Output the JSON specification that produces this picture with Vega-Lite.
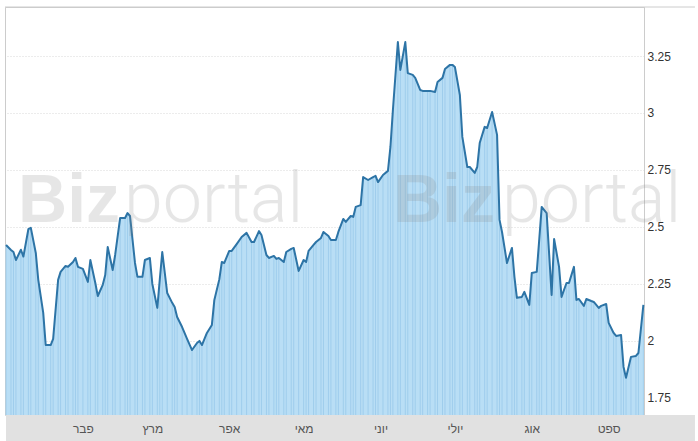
{
  "$schema": "https://vega.github.io/schema/vega-lite/v6.json",
  "width": 639,
  "height": 408,
  "autosize": {"type": "none"},
  "padding": {"left": 5, "top": 7, "right": 54, "bottom": 26},
  "background": "white",
  "config": {
    "view": {"stroke": "#cccccc", "strokeWidth": 1},
    "font": "Liberation Sans"
  },
  "data": {"values": [
    {"date": "2019-01-01", "v": 2.421}, {"date": "2019-01-03", "v": 2.399}, {"date": "2019-01-04", "v": 2.39},
    {"date": "2019-01-05", "v": 2.355}, {"date": "2019-01-07", "v": 2.40}, {"date": "2019-01-08", "v": 2.37},
    {"date": "2019-01-10", "v": 2.49}, {"date": "2019-01-11", "v": 2.496}, {"date": "2019-01-13", "v": 2.386},
    {"date": "2019-01-14", "v": 2.268}, {"date": "2019-01-16", "v": 2.123}, {"date": "2019-01-17", "v": 1.982},
    {"date": "2019-01-19", "v": 1.982}, {"date": "2019-01-20", "v": 2.009}, {"date": "2019-01-22", "v": 2.268},
    {"date": "2019-01-23", "v": 2.303}, {"date": "2019-01-25", "v": 2.329}, {"date": "2019-01-26", "v": 2.325},
    {"date": "2019-01-28", "v": 2.346}, {"date": "2019-01-29", "v": 2.364}, {"date": "2019-01-30", "v": 2.325},
    {"date": "2019-02-01", "v": 2.316}, {"date": "2019-02-03", "v": 2.259}, {"date": "2019-02-04", "v": 2.355},
    {"date": "2019-02-06", "v": 2.254}, {"date": "2019-02-07", "v": 2.197}, {"date": "2019-02-09", "v": 2.246},
    {"date": "2019-02-10", "v": 2.289}, {"date": "2019-02-11", "v": 2.412}, {"date": "2019-02-13", "v": 2.311},
    {"date": "2019-02-14", "v": 2.377}, {"date": "2019-02-16", "v": 2.539}, {"date": "2019-02-18", "v": 2.539},
    {"date": "2019-02-19", "v": 2.561}, {"date": "2019-02-20", "v": 2.548}, {"date": "2019-02-22", "v": 2.342},
    {"date": "2019-02-23", "v": 2.281}, {"date": "2019-02-25", "v": 2.281}, {"date": "2019-02-26", "v": 2.355},
    {"date": "2019-02-28", "v": 2.364}, {"date": "2019-03-01", "v": 2.25}, {"date": "2019-03-03", "v": 2.145},
    {"date": "2019-03-04", "v": 2.27}, {"date": "2019-03-05", "v": 2.39}, {"date": "2019-03-07", "v": 2.21},
    {"date": "2019-03-09", "v": 2.167}, {"date": "2019-03-10", "v": 2.149}, {"date": "2019-03-11", "v": 2.105},
    {"date": "2019-03-13", "v": 2.061}, {"date": "2019-03-15", "v": 2.009}, {"date": "2019-03-17", "v": 1.96},
    {"date": "2019-03-19", "v": 1.991}, {"date": "2019-03-20", "v": 2.0}, {"date": "2019-03-21", "v": 1.982},
    {"date": "2019-03-23", "v": 2.035}, {"date": "2019-03-25", "v": 2.07}, {"date": "2019-03-26", "v": 2.18},
    {"date": "2019-03-28", "v": 2.27}, {"date": "2019-03-29", "v": 2.346}, {"date": "2019-03-30", "v": 2.342},
    {"date": "2019-04-01", "v": 2.395}, {"date": "2019-04-02", "v": 2.395}, {"date": "2019-04-04", "v": 2.425},
    {"date": "2019-04-06", "v": 2.456}, {"date": "2019-04-08", "v": 2.474}, {"date": "2019-04-10", "v": 2.434},
    {"date": "2019-04-11", "v": 2.434}, {"date": "2019-04-13", "v": 2.482}, {"date": "2019-04-14", "v": 2.465},
    {"date": "2019-04-16", "v": 2.377}, {"date": "2019-04-17", "v": 2.364}, {"date": "2019-04-19", "v": 2.373},
    {"date": "2019-04-20", "v": 2.36}, {"date": "2019-04-21", "v": 2.364}, {"date": "2019-04-23", "v": 2.346},
    {"date": "2019-04-24", "v": 2.39}, {"date": "2019-04-26", "v": 2.404}, {"date": "2019-04-27", "v": 2.408},
    {"date": "2019-04-29", "v": 2.307}, {"date": "2019-05-01", "v": 2.355}, {"date": "2019-05-02", "v": 2.346},
    {"date": "2019-05-03", "v": 2.395}, {"date": "2019-05-05", "v": 2.421}, {"date": "2019-05-06", "v": 2.434},
    {"date": "2019-05-08", "v": 2.452}, {"date": "2019-05-09", "v": 2.478}, {"date": "2019-05-11", "v": 2.46},
    {"date": "2019-05-12", "v": 2.443}, {"date": "2019-05-14", "v": 2.443}, {"date": "2019-05-15", "v": 2.478},
    {"date": "2019-05-17", "v": 2.535}, {"date": "2019-05-18", "v": 2.522}, {"date": "2019-05-20", "v": 2.548},
    {"date": "2019-05-21", "v": 2.544}, {"date": "2019-05-22", "v": 2.588}, {"date": "2019-05-24", "v": 2.596},
    {"date": "2019-05-25", "v": 2.719}, {"date": "2019-05-27", "v": 2.706}, {"date": "2019-05-29", "v": 2.719},
    {"date": "2019-05-30", "v": 2.724}, {"date": "2019-05-31", "v": 2.697}, {"date": "2019-06-02", "v": 2.728},
    {"date": "2019-06-04", "v": 2.746}, {"date": "2019-06-05", "v": 2.851}, {"date": "2019-06-06", "v": 3.013},
    {"date": "2019-06-08", "v": 3.311}, {"date": "2019-06-09", "v": 3.189}, {"date": "2019-06-11", "v": 3.311},
    {"date": "2019-06-12", "v": 3.175}, {"date": "2019-06-14", "v": 3.167}, {"date": "2019-06-15", "v": 3.154},
    {"date": "2019-06-17", "v": 3.101}, {"date": "2019-06-18", "v": 3.097}, {"date": "2019-06-20", "v": 3.097},
    {"date": "2019-06-21", "v": 3.097}, {"date": "2019-06-23", "v": 3.092}, {"date": "2019-06-24", "v": 3.136},
    {"date": "2019-06-26", "v": 3.154}, {"date": "2019-06-27", "v": 3.193}, {"date": "2019-06-29", "v": 3.211},
    {"date": "2019-06-30", "v": 3.211}, {"date": "2019-07-01", "v": 3.202}, {"date": "2019-07-03", "v": 3.079},
    {"date": "2019-07-04", "v": 2.895}, {"date": "2019-07-06", "v": 2.763}, {"date": "2019-07-07", "v": 2.763},
    {"date": "2019-07-09", "v": 2.737}, {"date": "2019-07-10", "v": 2.763}, {"date": "2019-07-11", "v": 2.868},
    {"date": "2019-07-13", "v": 2.939}, {"date": "2019-07-14", "v": 2.934}, {"date": "2019-07-16", "v": 3.004},
    {"date": "2019-07-18", "v": 2.904}, {"date": "2019-07-19", "v": 2.531}, {"date": "2019-07-20", "v": 2.478},
    {"date": "2019-07-22", "v": 2.342}, {"date": "2019-07-24", "v": 2.408}, {"date": "2019-07-25", "v": 2.281},
    {"date": "2019-07-26", "v": 2.189}, {"date": "2019-07-28", "v": 2.193}, {"date": "2019-07-29", "v": 2.215},
    {"date": "2019-07-31", "v": 2.158}, {"date": "2019-08-01", "v": 2.298}, {"date": "2019-08-03", "v": 2.303},
    {"date": "2019-08-04", "v": 2.443}, {"date": "2019-08-05", "v": 2.588}, {"date": "2019-08-07", "v": 2.561},
    {"date": "2019-08-09", "v": 2.202}, {"date": "2019-08-10", "v": 2.447}, {"date": "2019-08-12", "v": 2.325},
    {"date": "2019-08-13", "v": 2.193}, {"date": "2019-08-15", "v": 2.254}, {"date": "2019-08-16", "v": 2.254},
    {"date": "2019-08-18", "v": 2.325}, {"date": "2019-08-19", "v": 2.18}, {"date": "2019-08-20", "v": 2.184},
    {"date": "2019-08-22", "v": 2.154}, {"date": "2019-08-23", "v": 2.184}, {"date": "2019-08-25", "v": 2.175},
    {"date": "2019-08-26", "v": 2.171}, {"date": "2019-08-28", "v": 2.145}, {"date": "2019-08-29", "v": 2.154},
    {"date": "2019-08-31", "v": 2.162}, {"date": "2019-09-01", "v": 2.079}, {"date": "2019-09-03", "v": 2.035},
    {"date": "2019-09-04", "v": 2.022}, {"date": "2019-09-06", "v": 2.026}, {"date": "2019-09-07", "v": 1.886},
    {"date": "2019-09-08", "v": 1.838}, {"date": "2019-09-10", "v": 1.93}, {"date": "2019-09-12", "v": 1.934},
    {"date": "2019-09-13", "v": 1.947}, {"date": "2019-09-15", "v": 2.158}
  ]},
  "layer": [
    {
      "data": {"values": [{}]},
      "mark": {"type": "rect", "fill": "#e1e1e1", "stroke": null},
      "encoding": {
        "x": {"datum": {"utc": true, "year": 2019, "month": 1, "date": 1}, "type": "temporal"},
        "x2": {"datum": {"utc": true, "year": 2019, "month": 10, "date": 5, "hours": 19}},
        "y": {"datum": 1.675, "type": "quantitative"},
        "y2": {"datum": 1.561}
      }
    },
    {
      "mark": {"type": "area", "color": "#b9def5", "opacity": 1},
      "encoding": {
        "x": {
          "field": "date", "type": "temporal",
          "scale": {"type": "utc", "domain": [
            {"utc": true, "year": 2018, "month": 12, "date": 31, "hours": 14},
            {"utc": true, "year": 2019, "month": 9, "date": 15, "hours": 6}
          ]},
          "axis": {
            "title": null,
            "zindex": 1,
            "values": [
              {"utc": true, "year": 2019, "month": 2, "date": 1},
              {"utc": true, "year": 2019, "month": 3, "date": 1},
              {"utc": true, "year": 2019, "month": 4, "date": 1},
              {"utc": true, "year": 2019, "month": 5, "date": 1},
              {"utc": true, "year": 2019, "month": 6, "date": 1},
              {"utc": true, "year": 2019, "month": 7, "date": 1},
              {"utc": true, "year": 2019, "month": 8, "date": 1},
              {"utc": true, "year": 2019, "month": 9, "date": 1}
            ],
            "labelExpr": "['ינו','פבר','מרץ','אפר','מאי','יוני','יולי','אוג','ספט','אוק','נוב','דצמ'][utcmonth(datum.value)]",
            "ticks": false, "tickSize": 0, "domain": false, "grid": false,
            "labelPadding": 13, "labelBaseline": "middle",
            "labelFont": "Liberation Sans", "labelFontSize": 12, "labelColor": "#555555"
          }
        },
        "y": {
          "field": "v", "type": "quantitative",
          "scale": {"domain": [1.675, 3.465], "nice": false, "zero": false},
          "axis": {
            "orient": "right", "title": null,
            "values": [1.75, 2, 2.25, 2.5, 2.75, 3, 3.25],
            "labelExpr": "datum.value == 1.75 ? '1.75' : datum.value == 2.25 ? '2.25' : datum.value == 2.75 ? '2.75' : datum.value == 3.25 ? '3.25' : datum.value == 2.5 ? '2.5' : datum.value == 2 ? '2' : '3'",
            "ticks": false, "tickSize": 0,
            "domain": true, "domainColor": "#cccccc",
            "grid": true, "gridColor": "#d9d9d9", "gridDash": [1, 2], "gridWidth": 1,
            "labelPadding": 3, "labelFont": "Liberation Sans", "labelFontSize": 12, "labelColor": "#333333"
          }
        },
        "y2": {"datum": 1.675}
      }
    },
    {
      "mark": {"type": "rule", "color": "#9fcdec", "strokeWidth": 1},
      "encoding": {
        "x": {"field": "date", "type": "temporal"},
        "y": {"field": "v", "type": "quantitative"},
        "y2": {"datum": 1.675}
      }
    },
    {
      "mark": {"type": "line", "color": "#2d74a6", "strokeWidth": 2, "strokeJoin": "round"},
      "encoding": {
        "x": {"field": "date", "type": "temporal"},
        "y": {"field": "v", "type": "quantitative"}
      }
    },
    {
      "data": {"values": [
        {"t": "Biz", "d": "2019-01-05T20:00:00Z"},
        {"t": "Biz", "d": "2019-06-06T01:00:00Z"}
      ]},
      "mark": {"type": "text", "align": "left", "baseline": "alphabetic", "font": "Liberation Sans", "fontWeight": "bold", "fontSize": 68, "color": "#888888", "opacity": 0.2},
      "encoding": {
        "x": {"field": "d", "type": "temporal"},
        "y": {"datum": 2.522, "type": "quantitative"},
        "text": {"field": "t"}
      }
    },
    {
      "data": {"values": [
        {"t": "portal", "d": "2019-02-17T14:00:00Z"},
        {"t": "portal", "d": "2019-07-20T00:00:00Z"}
      ]},
      "mark": {"type": "text", "align": "left", "baseline": "alphabetic", "font": "Roboto", "fontWeight": 300, "fontSize": 70, "color": "#888888", "opacity": 0.2},
      "encoding": {
        "x": {"field": "d", "type": "temporal"},
        "y": {"datum": 2.522, "type": "quantitative"},
        "text": {"field": "t"}
      }
    },
    {
      "data": {"values": [{}]},
      "mark": {"type": "rule", "color": "#cccccc", "strokeWidth": 1},
      "encoding": {
        "x": {"datum": {"utc": true, "year": 2018, "month": 12, "date": 31, "hours": 14}, "type": "temporal"},
        "x2": {"datum": {"utc": true, "year": 2019, "month": 10, "date": 5, "hours": 19}},
        "y": {"datum": 3.465, "type": "quantitative"}
      }
    }
  ]
}
